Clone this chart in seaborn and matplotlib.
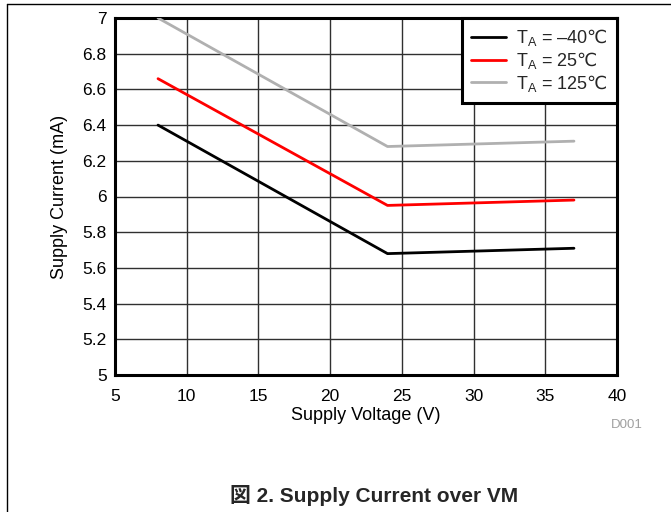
import matplotlib
matplotlib.use("Agg")
import matplotlib.pyplot as plt
from matplotlib.lines import Line2D
import seaborn as sns
import pandas as pd

# ---- data ----
voltage = [8, 24, 37]
current_m40 = [6.40, 5.68, 5.71]
current_25 = [6.66, 5.95, 5.98]
current_125 = [7.00, 6.28, 6.31]
series_labels = [r"$\mathrm{T_A}$ = –40$\mathsf{℃}$", r"$\mathrm{T_A}$ = 25$\mathsf{℃}$",
                 r"$\mathrm{T_A}$ = 125$\mathsf{℃}$"]
series_colors = ["#000000", "#ff0000", "#b0b0b0"]
x_ticks = [5, 10, 15, 20, 25, 30, 35, 40]
y_ticks = [5, 5.2, 5.4, 5.6, 5.8, 6, 6.2, 6.4, 6.6, 6.8, 7]
y_tick_labels = ["5", "5.2", "5.4", "5.6", "5.8", "6", "6.2", "6.4", "6.6", "6.8", "7"]

sns.set_theme(style="white")
plt.rcParams["font.family"] = ["Liberation Sans", "DejaVu Sans", "Noto Sans CJK JP"]
plt.rcParams["mathtext.fontset"] = "custom"
plt.rcParams["mathtext.rm"] = "Liberation Sans"
plt.rcParams["mathtext.it"] = "Liberation Sans:italic"
plt.rcParams["mathtext.bf"] = "Liberation Sans:bold"
plt.rcParams["mathtext.sf"] = "DejaVu Sans"

frames = []
for lab, vals in zip(series_labels, [current_m40, current_25, current_125]):
    frames.append(pd.DataFrame({"V": voltage, "I": vals, "T": lab}))
df = pd.concat(frames, ignore_index=True)

fig = plt.figure(figsize=(6.71, 5.12), dpi=100)
ax = fig.add_axes([115 / 671, 1 - 375 / 512, (617 - 115) / 671, (375 - 18) / 512])

sns.lineplot(data=df, x="V", y="I", hue="T", palette=dict(zip(series_labels, series_colors)),
             linewidth=2, ax=ax, legend=False, zorder=3)

ax.set_xlim(5, 40)
ax.set_ylim(5, 7)
ax.set_xticks(x_ticks)
ax.set_xticklabels([str(t) for t in x_ticks])
ax.set_yticks(y_ticks)
ax.set_yticklabels(y_tick_labels)
ax.grid(True, color="#303030", linewidth=1.0, zorder=1)
ax.set_axisbelow(True)
ax.tick_params(axis="x", length=0, labelsize=12.5, pad=10, colors="black")
ax.tick_params(axis="y", length=0, labelsize=12.5, pad=6, colors="black")
for s in ax.spines.values():
    s.set_linewidth(2.2)
    s.set_color("black")
    s.set_visible(True)

ax.set_xlabel("Supply Voltage (V)", fontsize=13, labelpad=2, color="black")
ax.set_ylabel("Supply Current (mA)", fontsize=13, labelpad=10.5, color="black")

handles = [Line2D([0], [0], color=c, linewidth=2) for c in series_colors]
leg = ax.legend(handles, series_labels, loc="upper right", bbox_to_anchor=(1, 1),
                borderaxespad=0, fontsize=13, frameon=True, fancybox=False,
                handlelength=1.9, handletextpad=0.6, labelspacing=0.1,
                borderpad=0.5, edgecolor="black", framealpha=1)
leg.get_frame().set_linewidth(2.2)
leg.set_zorder(5)

fig.text(643 / 671, 1 - 425 / 512, "D001", fontsize=9.5, color="#a0a0a0", ha="right", va="center")
fig.text(374 / 671, 1 - 495 / 512, "図 2. Supply Current over VM", fontsize=15, fontweight="bold",
         ha="center", va="center", family=["Liberation Sans", "Noto Sans CJK JP"])

# page frame (top and left rules)
fig.add_artist(Line2D([7 / 671, 1], [1 - 4 / 512, 1 - 4 / 512], color="black", linewidth=1,
                      transform=fig.transFigure))
fig.add_artist(Line2D([7 / 671, 7 / 671], [0, 1 - 4 / 512], color="black", linewidth=1,
                      transform=fig.transFigure))

fig.savefig("out.png", dpi=100)
